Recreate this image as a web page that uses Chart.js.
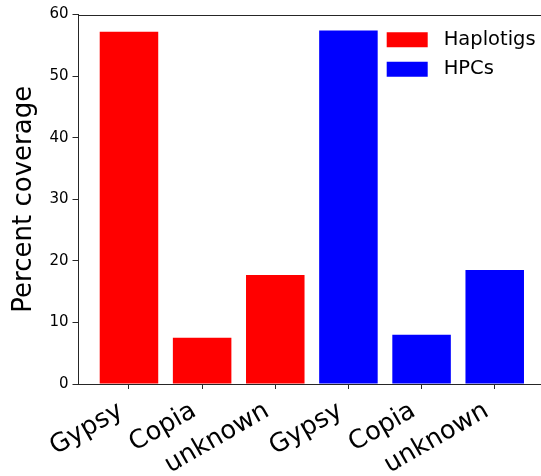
<!DOCTYPE html>
<html>
<head>
<meta charset="utf-8">
<script src="https://cdn.jsdelivr.net/npm/chart.js@4/dist/chart.umd.min.js"></script>
<style>
  html, body { margin: 0; padding: 0; background: #fff; overflow: hidden; }
  #wrap { width: 560px; height: 476px; }
</style>
</head>
<body>
<div id="wrap"><canvas id="c" width="560" height="476"></canvas></div>
<script>
// Repeat coverage per element class, for each assembly subset
const categories = ['Gypsy', 'Copia', 'unknown', 'Gypsy', 'Copia', 'unknown'];
const seriesNames = ['Haplotigs', 'HPCs'];
const haplotigs = [57.2, 7.5, 17.7];
const hpcs = [57.4, 8.0, 18.5];
const yTicks = [0, 10, 20, 30, 40, 50, 60];
const seriesColors = ['#ff0000', '#0000ff'];

const FONT = 'DejaVu Sans';
const INK = '#000';
const SPINE = '#262626';

// Bars sit at integer positions 0..n-1, width 0.8, with 5% side margins
const n = categories.length;
const barFrac = 0.8;
const sideMargin = 0.05 * ((n - 1) + barFrac);
const xMin = -barFrac / 2 - sideMargin;
const xMax = (n - 1) + barFrac / 2 + sideMargin;

const toPoints = (vals, offset) => vals.map((v, i) => ({ x: offset + i, y: v }));

// Top spine of the axes box
const frame = {
  id: 'frame',
  afterDatasetsDraw(chart) {
    const { ctx, chartArea } = chart;
    ctx.save();
    ctx.strokeStyle = SPINE;
    ctx.lineWidth = 1;
    const y = Math.round(chartArea.top) + 0.5;
    ctx.beginPath();
    ctx.moveTo(chartArea.left, y);
    ctx.lineTo(chartArea.right, y);
    ctx.stroke();
    ctx.restore();
  }
};

// Keep the legend inside the axes, in the upper right corner
const legendInside = {
  id: 'legendInside',
  afterLayout(chart) {
    const lg = chart.legend;
    if (!lg) return;
    const a = chart.chartArea;
    lg.left = a.right - 168.5;
    lg.right = a.right;
    lg.top = a.top + 5.5;
    lg.bottom = a.bottom;
  }
};

new Chart(document.getElementById('c'), {
  type: 'bar',
  data: {
    datasets: [
      {
        label: seriesNames[0],
        data: toPoints(haplotigs, 0),
        backgroundColor: seriesColors[0],
        borderWidth: 0,
        grouped: false,
        categoryPercentage: 1,
        barPercentage: barFrac
      },
      {
        label: seriesNames[1],
        data: toPoints(hpcs, haplotigs.length),
        backgroundColor: seriesColors[1],
        borderWidth: 0,
        grouped: false,
        categoryPercentage: 1,
        barPercentage: barFrac
      }
    ]
  },
  options: {
    responsive: false,
    animation: false,
    devicePixelRatio: 1,
    layout: { padding: { top: 14.5, right: 14.8, bottom: 0, left: 0 } },
    plugins: {
      tooltip: { enabled: false },
      legend: {
        position: 'chartArea',
        align: 'start',
        labels: {
          boxWidth: 41,
          boxHeight: 15,
          padding: 10,
          color: INK,
          font: { family: FONT, size: 19.5 },
          // a little extra room between the swatch and its label
          generateLabels(chart) {
            return Chart.defaults.plugins.legend.labels.generateLabels(chart)
              .map(item => ({ ...item, text: ' ' + item.text }));
          }
        }
      }
    },
    scales: {
      x: {
        type: 'linear',
        offset: false,
        bounds: 'data',
        min: xMin,
        max: xMax,
        afterBuildTicks(scale) {
          scale.ticks = categories.map((_, i) => ({ value: i }));
        },
        afterFit(scale) { scale.height = 92; },
        grid: {
          display: true,
          offset: false,
          drawOnChartArea: false,
          drawTicks: true,
          tickLength: 5,
          tickWidth: 1,
          tickColor: SPINE
        },
        border: { display: true, color: SPINE, width: 1 },
        ticks: {
          autoSkip: false,
          maxRotation: 30,
          minRotation: 30,
          padding: 7,
          labelOffset: -8,
          color: INK,
          font: { family: FONT, size: 25.5 },
          callback: (v) => categories[v] ?? ''
        }
      },
      y: {
        min: 0,
        max: 60,
        afterBuildTicks(scale) {
          scale.ticks = yTicks.map(v => ({ value: v }));
        },
        afterFit(scale) { scale.width = 78.5; },
        grid: {
          display: true,
          drawOnChartArea: false,
          drawTicks: true,
          tickLength: 6,
          tickWidth: 1,
          tickColor: SPINE
        },
        border: { display: true, color: SPINE, width: 1 },
        ticks: {
          padding: 4,
          color: INK,
          font: { family: FONT, size: 15 }
        },
        title: {
          display: true,
          text: 'Percent coverage',
          color: INK,
          font: { family: FONT, size: 26, lineHeight: 1.2 },
          padding: { top: 9, bottom: 0 }
        }
      }
    }
  },
  plugins: [frame, legendInside]
});
</script>
</body>
</html>
